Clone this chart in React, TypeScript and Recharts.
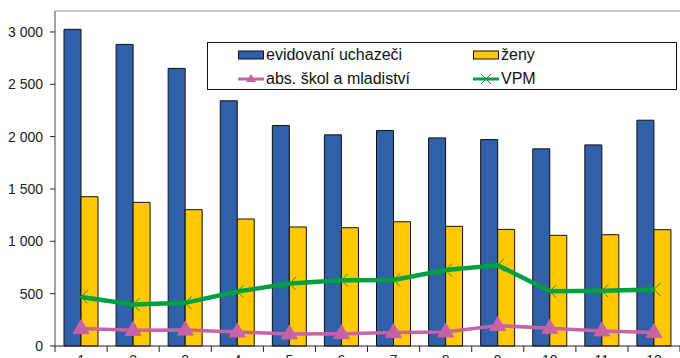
import React from 'react';
import { ComposedChart, Bar, Line, XAxis, YAxis, ReferenceLine } from 'recharts';

const months = ['1', '2', '3', '4', '5', '6', '7', '8', '9', '10', '11', '12'];
const evidovani = [3025, 2881, 2652, 2342, 2106, 2017, 2058, 1988, 1972, 1883, 1921, 2157];
const zeny = [1426, 1372, 1302, 1213, 1137, 1130, 1187, 1143, 1114, 1057, 1063, 1111];
const absolventi = [166, 150, 152, 134, 115, 118, 128, 134, 195, 169, 144, 128];
const vpm = [469, 396, 412, 520, 596, 629, 631, 725, 772, 523, 527, 540];
const yTicks = [0, 500, 1000, 1500, 2000, 2500, 3000];

const data = months.map((m, i) => ({
  m,
  evidovani: evidovani[i],
  zeny: zeny[i],
  abs: absolventi[i],
  vpm: vpm[i],
}));

const BLUE = '#2F60A9';
const YELLOW = '#FFC800';
const PINK = '#C862A6';
const GREEN = '#00A040';
const FONT = 'Liberation Sans, Arial, sans-serif';

const fmt = (v: number) => String(v).replace(/\B(?=(\d{3})+(?!\d))/g, ' ');

const XTick = (props: any) => {
  const { x, y, payload, index } = props;
  const half = 26;
  return (
    <g>
      <line x1={x - half} y1={y} x2={x - half} y2={y + 6} stroke="#222" strokeWidth={1} />
      {index === months.length - 1 && (
        <line x1={x + half} y1={y} x2={x + half} y2={y + 6} stroke="#222" strokeWidth={1} />
      )}
      <text x={x} y={y + 19} textAnchor="middle" fontSize={14} fill="#222" fontFamily={FONT}>
        {payload.value}
      </text>
    </g>
  );
};

const XDot = (props: any) => {
  const { cx, cy } = props;
  if (cx == null || cy == null) return null;
  const s = 6.5;
  return (
    <g>
      <line x1={cx - s} y1={cy - s} x2={cx + s} y2={cy + s} stroke={GREEN} strokeWidth={1} />
      <line x1={cx - s} y1={cy + s} x2={cx + s} y2={cy - s} stroke={GREEN} strokeWidth={1} />
    </g>
  );
};

const TriDot = (props: any) => {
  const { cx, cy } = props;
  if (cx == null || cy == null) return null;
  const w = 8;
  return (
    <path
      d={`M${cx},${cy - 9} L${cx + w},${cy + 5} L${cx - w},${cy + 5} Z`}
      fill={PINK}
      stroke={PINK}
      strokeWidth={1}
    />
  );
};

const LegendBox = () => {
  const itemStyle: React.CSSProperties = {
    position: 'absolute',
    display: 'flex',
    alignItems: 'center',
    fontSize: 16,
    fontFamily: FONT,
    color: '#111',
    whiteSpace: 'nowrap',
  };
  const barSwatch = (c: string) => (
    <svg width={27} height={10} style={{ marginRight: 1 }}>
      <rect x={0.5} y={1} width={25} height={8} fill={c} stroke="#111" strokeWidth={1} />
    </svg>
  );
  const lineSwatch = (c: string, kind: 'tri' | 'x') => (
    <svg width={27} height={14} style={{ marginRight: 1 }}>
      <line x1={0} y1={7} x2={26} y2={7} stroke={c} strokeWidth={3} />
      {kind === 'tri' ? (
        <path d="M13,2 L18,10 L8,10 Z" fill={c} />
      ) : (
        <g>
          <line x1={8} y1={2} x2={18} y2={12} stroke={c} strokeWidth={1} />
          <line x1={8} y1={12} x2={18} y2={2} stroke={c} strokeWidth={1} />
        </g>
      )}
    </svg>
  );
  return (
    <div
      style={{
        position: 'absolute',
        left: 207,
        top: 42,
        width: 470,
        height: 48,
        border: '1px solid #111',
        background: '#fff',
        boxSizing: 'border-box',
      }}
    >
      <div style={{ ...itemStyle, left: 30, top: 3 }}>
        {barSwatch(BLUE)}
        <span>evidovaní uchazeči</span>
      </div>
      <div style={{ ...itemStyle, left: 265, top: 3 }}>
        {barSwatch(YELLOW)}
        <span>ženy</span>
      </div>
      <div style={{ ...itemStyle, left: 30, top: 27 }}>
        {lineSwatch(PINK, 'tri')}
        <span>abs. škol a mladiství</span>
      </div>
      <div style={{ ...itemStyle, left: 265, top: 27 }}>
        {lineSwatch(GREEN, 'x')}
        <span>VPM</span>
      </div>
    </div>
  );
};

export default function App() {
  return (
    <div style={{ position: 'absolute', left: 0, top: 0, width: 680, height: 358, overflow: 'hidden', background: '#fff' }}>
      <ComposedChart
        width={700}
        height={380}
        data={data}
        margin={{ top: 11, right: 20, bottom: 4, left: 0 }}
        barCategoryGap={9}
        barGap={0}
      >
        <XAxis
          dataKey="m"
          height={30}
          axisLine={{ stroke: '#222' }}
          tickLine={false}
          tickSize={0}
          tickMargin={0}
          interval={0}
          tick={<XTick />}
        />
        <YAxis
          width={55}
          domain={[0, 3200]}
          ticks={yTicks}
          interval={0}
          tickFormatter={fmt}
          axisLine={{ stroke: '#444' }}
          tickLine={{ stroke: '#222' }}
          tickSize={5}
          tickMargin={7}
          tick={{ fontSize: 14, fill: '#222', fontFamily: FONT }}
        />
        <ReferenceLine y={3200} stroke="#999" strokeWidth={1} />
        <Bar dataKey="evidovani" fill={BLUE} stroke="#111" strokeWidth={1} isAnimationActive={false} />
        <Bar dataKey="zeny" fill={YELLOW} stroke="#111" strokeWidth={1} isAnimationActive={false} />
        <Line
          dataKey="abs"
          stroke={PINK}
          strokeWidth={3.5}
          dot={<TriDot />}
          activeDot={false}
          isAnimationActive={false}
        />
        <Line
          dataKey="vpm"
          stroke={GREEN}
          strokeWidth={4.5}
          dot={<XDot />}
          activeDot={false}
          isAnimationActive={false}
        />
      </ComposedChart>
      <LegendBox />
    </div>
  );
}
